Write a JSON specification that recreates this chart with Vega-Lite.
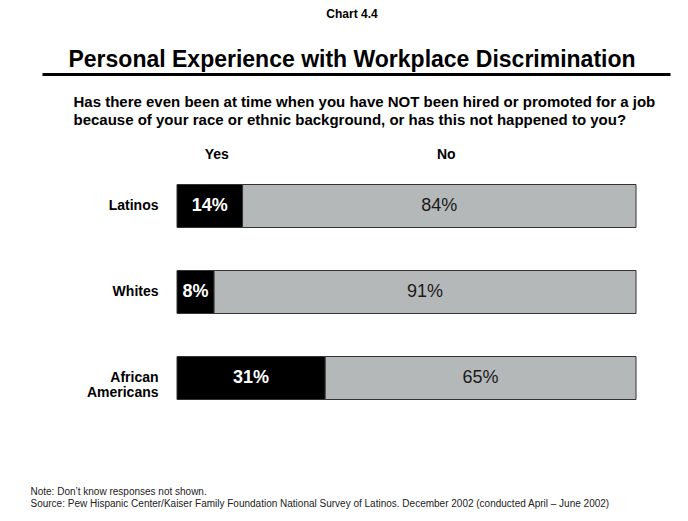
{
  "$schema": "https://vega.github.io/schema/vega-lite/v6.json",
  "width": 628,
  "height": 258,
  "autosize": {"type": "none"},
  "padding": {"top": 163, "left": 42, "right": 18, "bottom": 100},
  "background": "white",
  "config": {"view": {"stroke": null}, "font": "Liberation Sans"},
  "title": {
    "text": "Chart 4.4",
    "subtitle": "Personal Experience with Workplace Discrimination",
    "font": "Liberation Sans",
    "subtitleFont": "Liberation Sans",
    "fontSize": 12,
    "fontWeight": "bold",
    "color": "black",
    "subtitleFontSize": 23,
    "subtitleFontWeight": "bold",
    "subtitleColor": "black",
    "subtitlePadding": 28,
    "anchor": "middle",
    "frame": "group",
    "dx": -4,
    "offset": 1
  },
  "data": {
    "values": [
      {"group": "Latinos", "response": "Yes", "pct": 14},
      {"group": "Latinos", "response": "No", "pct": 84},
      {"group": "Whites", "response": "Yes", "pct": 8},
      {"group": "Whites", "response": "No", "pct": 91},
      {"group": "African Americans", "response": "Yes", "pct": 31},
      {"group": "African Americans", "response": "No", "pct": 65}
    ]
  },
  "encoding": {
    "y": {
      "field": "group",
      "type": "nominal",
      "sort": ["Latinos", "Whites", "African Americans"],
      "scale": {"paddingInner": 0.5, "paddingOuter": 0.25},
      "axis": {
        "title": null,
        "domain": false,
        "ticks": false,
        "grid": false,
        "offset": -135,
        "labelPadding": 19,
        "labelFontSize": 14,
        "labelFontWeight": "bold",
        "labelColor": "black",
        "labelLineHeight": 15,
        "labelExpr": "datum.value == 'African Americans' ? ['African', 'Americans'] : datum.value"
      }
    }
  },
  "resolve": {"axis": {"x": "independent"}},
  "layer": [
    {
      "mark": {"type": "bar", "stroke": "#333333", "strokeWidth": 1},
      "encoding": {
        "x": {
          "field": "pct",
          "type": "quantitative",
          "stack": "normalize",
          "scale": {"domain": [-0.29412, 1.07407], "nice": false, "zero": false},
          "axis": {
            "orient": "top",
            "offset": 89,
            "labels": false,
            "ticks": false,
            "grid": false,
            "domain": true,
            "domainColor": "black",
            "domainWidth": 3,
            "title": [
              "Has there even been at time when you have NOT been hired or promoted for a job",
              "because of your race or ethnic background, or has this not happened to you?"
            ],
            "titleFontSize": 15,
            "titleFontWeight": "bold",
            "titleColor": "black",
            "titleAlign": "left",
            "titleAnchor": "start",
            "titleAngle": 0,
            "titleX": 31,
            "titleY": 32,
            "titleBaseline": "alphabetic",
            "titleLineHeight": 18
          }
        },
        "color": {
          "field": "response",
          "type": "nominal",
          "scale": {"domain": ["Yes", "No"], "range": ["#000000", "#b5b8b9"]},
          "legend": null
        },
        "order": {"field": "response", "sort": "descending"}
      }
    },
    {
      "mark": {
        "type": "text",
        "fontSize": 18,
        "baseline": "middle",
        "fontWeight": {"expr": "datum.response === 'Yes' ? 'bold' : 'normal'"},
        "text": {"expr": "datum.pct + '%'"}
      },
      "encoding": {
        "x": {
          "field": "pct",
          "type": "quantitative",
          "stack": "normalize",
          "bandPosition": 0.5,
          "axis": {
            "orient": "bottom",
            "labels": false,
            "ticks": false,
            "grid": false,
            "domain": false,
            "title": [
              "Note: Don’t know responses not shown.",
              "Source: Pew Hispanic Center/Kaiser Family Foundation National Survey of Latinos. December 2002 (conducted April – June 2002)"
            ],
            "titleFontSize": 10,
            "titleFontWeight": "normal",
            "titleColor": "#222222",
            "titleAlign": "left",
            "titleAnchor": "start",
            "titleAngle": 0,
            "titleX": -12,
            "titleY": 73,
            "titleBaseline": "alphabetic",
            "titleLineHeight": 12
          }
        },
        "detail": {"field": "response"},
        "order": {"field": "response", "sort": "descending"},
        "color": {
          "condition": {"test": "datum.response === 'Yes'", "value": "white"},
          "value": "#1a1a1a"
        }
      }
    },
    {
      "transform": [{"filter": "datum.group === 'Latinos'"}],
      "mark": {
        "type": "text",
        "fontSize": 14,
        "fontWeight": "bold",
        "color": "black",
        "baseline": "middle",
        "dy": -51,
        "dx": 7
      },
      "encoding": {
        "x": {
          "field": "pct",
          "type": "quantitative",
          "stack": "normalize",
          "bandPosition": 0.5,
          "axis": null
        },
        "detail": {"field": "response"},
        "order": {"field": "response", "sort": "descending"},
        "text": {"field": "response"}
      }
    }
  ]
}
